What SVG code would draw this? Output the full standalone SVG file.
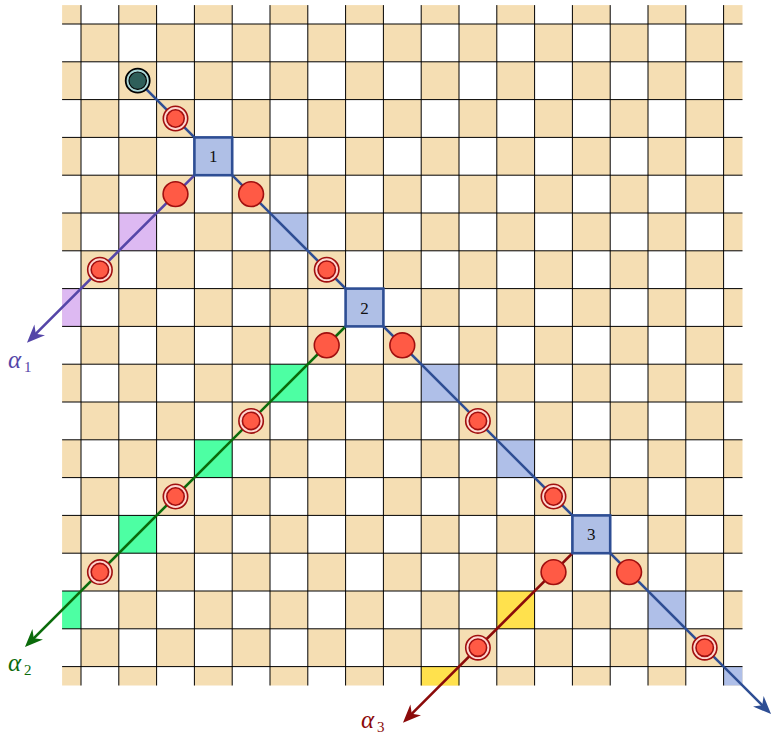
<svg xmlns="http://www.w3.org/2000/svg" width="773" height="737" viewBox="0 0 773 737">
<style>
.grid{fill:none;stroke:#000;stroke-width:1}
.hp{fill:#DDB9F2}.hb{fill:#AFBFE8}.hg{fill:#4DFFA3}.hy{fill:#FFE14D}
.ln{fill:none;stroke-width:2.6}
.sq{fill:#AFBFE6;stroke:#2E4E94;stroke-width:2.6}
.sqt{font-family:"Liberation Serif",serif;font-size:17px;text-anchor:middle;fill:#111}
.red{fill:#FF5A45;stroke:#A00F0F;stroke-width:1.6}
.ring{fill:#FFD6CF;stroke:#A00F0F;stroke-width:1.6}
.al{font-family:"Liberation Serif",serif;font-style:italic;font-size:25px}
.sub{font-family:"Liberation Serif",serif;font-size:15px}
</style>
<defs>
<pattern id="chk" patternUnits="userSpaceOnUse" x="43.2" y="-13.8" width="75.6" height="75.6">
<rect width="75.6" height="75.6" fill="#fff"/>
<rect width="37.8" height="37.8" fill="#F5DEB3"/>
<rect x="37.8" y="37.8" width="37.8" height="37.8" fill="#F5DEB3"/>
</pattern>
<marker id="mB" viewBox="-20 -9 22 18" refX="-6" refY="0" markerWidth="22" markerHeight="18" markerUnits="userSpaceOnUse" orient="auto"><path d="M0 0L-18 -7.5L-12.5 0L-18 7.5Z" fill="#2E4E94"/></marker>
<marker id="mP" viewBox="-20 -9 22 18" refX="-6" refY="0" markerWidth="22" markerHeight="18" markerUnits="userSpaceOnUse" orient="auto"><path d="M0 0L-18 -7.5L-12.5 0L-18 7.5Z" fill="#5546A8"/></marker>
<marker id="mG" viewBox="-20 -9 22 18" refX="-6" refY="0" markerWidth="22" markerHeight="18" markerUnits="userSpaceOnUse" orient="auto"><path d="M0 0L-18 -7.5L-12.5 0L-18 7.5Z" fill="#0B6B0B"/></marker>
<marker id="mR" viewBox="-20 -9 22 18" refX="-6" refY="0" markerWidth="22" markerHeight="18" markerUnits="userSpaceOnUse" orient="auto"><path d="M0 0L-18 -7.5L-12.5 0L-18 7.5Z" fill="#8B0A0A"/></marker>
</defs>
<g id="board">
<rect x="62.1" y="5.1" width="680.4" height="680.4" fill="url(#chk)"/>
<rect class="hp" x="118.8" y="213" width="37.8" height="37.8"/>
<rect class="hp" x="62.1" y="288.6" width="18.9" height="37.8"/>
<rect class="hb" x="270" y="213" width="37.8" height="37.8"/>
<rect class="hb" x="421.2" y="364.2" width="37.8" height="37.8"/>
<rect class="hb" x="496.8" y="439.8" width="37.8" height="37.8"/>
<rect class="hb" x="648" y="591" width="37.8" height="37.8"/>
<rect class="hb" x="723.6" y="666.6" width="18.9" height="18.9"/>
<rect class="hg" x="270" y="364.2" width="37.8" height="37.8"/>
<rect class="hg" x="194.4" y="439.8" width="37.8" height="37.8"/>
<rect class="hg" x="118.8" y="515.4" width="37.8" height="37.8"/>
<rect class="hg" x="62.1" y="591" width="18.9" height="37.8"/>
<rect class="hy" x="496.8" y="591" width="37.8" height="37.8"/>
<rect class="hy" x="421.2" y="666.6" width="37.8" height="18.9"/>
<path class="grid" d="M81 5.1V685.5M118.8 5.1V685.5M156.6 5.1V685.5M194.4 5.1V685.5M232.2 5.1V685.5M270 5.1V685.5M307.8 5.1V685.5M345.6 5.1V685.5M383.4 5.1V685.5M421.2 5.1V685.5M459 5.1V685.5M496.8 5.1V685.5M534.6 5.1V685.5M572.4 5.1V685.5M610.2 5.1V685.5M648 5.1V685.5M685.8 5.1V685.5M723.6 5.1V685.5M62.1 24H742.5M62.1 61.8H742.5M62.1 99.6H742.5M62.1 137.4H742.5M62.1 175.2H742.5M62.1 213H742.5M62.1 250.8H742.5M62.1 288.6H742.5M62.1 326.4H742.5M62.1 364.2H742.5M62.1 402H742.5M62.1 439.8H742.5M62.1 477.6H742.5M62.1 515.4H742.5M62.1 553.2H742.5M62.1 591H742.5M62.1 628.8H742.5M62.1 666.6H742.5"/>
</g>
<g id="connectors">
<path class="ln" stroke="#2E4E94" marker-end="url(#mB)" d="M137.7 80.7L766.8 709.8"/>
<path class="ln" stroke="#5546A8" marker-end="url(#mP)" d="M213.3 156.3L31.2 338.4"/>
<path class="ln" stroke="#0B6B0B" marker-end="url(#mG)" d="M364.5 307.5L29.2 642.8"/>
<path class="ln" stroke="#8B0A0A" marker-end="url(#mR)" d="M591.3 534.3L407.2 718.4"/>
</g>
<g id="start"><circle cx="137.7" cy="80.7" r="12" fill="#A9D6D6" stroke="#000" stroke-width="1.8"/><circle cx="137.7" cy="80.7" r="8.7" fill="#2F5F5A" stroke="#000" stroke-width="1.2"/></g>
<g id="d33"><circle class="ring" cx="175.5" cy="118.5" r="12.2"/><circle class="red" cx="175.5" cy="118.5" r="8.7"/></g>
<g id="n1"><rect class="sq" x="194.4" y="137.4" width="37.8" height="37.8"/><text class="sqt" x="213.3" y="162.3">1</text></g>
<g id="c35"><circle class="red" cx="175.5" cy="194.1" r="12.4"/></g>
<g id="c55"><circle class="red" cx="251.1" cy="194.1" r="12.4"/></g>
<g id="d17"><circle class="ring" cx="99.9" cy="269.7" r="12.2"/><circle class="red" cx="99.9" cy="269.7" r="8.7"/></g>
<g id="d77"><circle class="ring" cx="326.7" cy="269.7" r="12.2"/><circle class="red" cx="326.7" cy="269.7" r="8.7"/></g>
<g id="n2"><rect class="sq" x="345.6" y="288.6" width="37.8" height="37.8"/><text class="sqt" x="364.5" y="313.5">2</text></g>
<g id="c79"><circle class="red" cx="326.7" cy="345.3" r="12.4"/></g>
<g id="c99"><circle class="red" cx="402.3" cy="345.3" r="12.4"/></g>
<g id="d511"><circle class="ring" cx="251.1" cy="420.9" r="12.2"/><circle class="red" cx="251.1" cy="420.9" r="8.7"/></g>
<g id="d1111"><circle class="ring" cx="477.9" cy="420.9" r="12.2"/><circle class="red" cx="477.9" cy="420.9" r="8.7"/></g>
<g id="d313"><circle class="ring" cx="175.5" cy="496.5" r="12.2"/><circle class="red" cx="175.5" cy="496.5" r="8.7"/></g>
<g id="d1313"><circle class="ring" cx="553.5" cy="496.5" r="12.2"/><circle class="red" cx="553.5" cy="496.5" r="8.7"/></g>
<g id="n3"><rect class="sq" x="572.4" y="515.4" width="37.8" height="37.8"/><text class="sqt" x="591.3" y="540.3">3</text></g>
<g id="d115"><circle class="ring" cx="99.9" cy="572.1" r="12.2"/><circle class="red" cx="99.9" cy="572.1" r="8.7"/></g>
<g id="c1315"><circle class="red" cx="553.5" cy="572.1" r="12.4"/></g>
<g id="c1515"><circle class="red" cx="629.1" cy="572.1" r="12.4"/></g>
<g id="d1117"><circle class="ring" cx="477.9" cy="647.7" r="12.2"/><circle class="red" cx="477.9" cy="647.7" r="8.7"/></g>
<g id="d1717"><circle class="ring" cx="704.7" cy="647.7" r="12.2"/><circle class="red" cx="704.7" cy="647.7" r="8.7"/></g>
<g id="labels">
<text class="al" x="8" y="368" fill="#5546A8">α</text><text class="sub" x="24" y="372" fill="#5546A8">1</text>
<text class="al" x="8" y="671" fill="#0B6B0B">α</text><text class="sub" x="24" y="675" fill="#0B6B0B">2</text>
<text class="al" x="361" y="728" fill="#8B0A0A">α</text><text class="sub" x="377" y="732" fill="#8B0A0A">3</text>
</g>
</svg>
